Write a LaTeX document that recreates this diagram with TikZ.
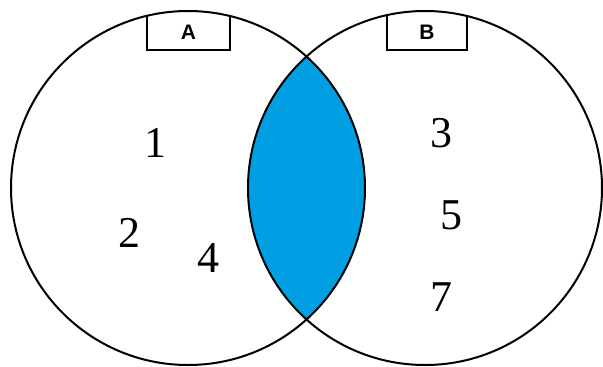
\documentclass[tikz,border=0pt]{standalone}
\usepackage{fontspec}
\setmainfont{Liberation Serif}
\newfontfamily\labelfont{Liberation Sans}
\definecolor{lensblue}{RGB}{0,159,227}
\begin{document}
\begin{tikzpicture}[x=1pt,y=-1pt,
  setline/.style={line width=2pt,black},
  boxline/.style={line width=1.8pt,black},
  num/.style={font=\fontsize{44}{44}\selectfont,inner sep=0pt},
  lab/.style={font=\labelfont\bfseries\fontsize{21}{21}\selectfont,inner sep=0pt}]
\useasboundingbox (0,0) rectangle (603,367);
\coordinate (ca) at (188,188);
\coordinate (cb) at (425,188);
% lens
\begin{scope}
  \clip (ca) circle (177);
  \fill[lensblue] (cb) circle (177);
\end{scope}
% label boxes
\begin{scope}
  \clip (ca) circle (177);
  \draw[boxline] (147,0) rectangle (230,50);
\end{scope}
\begin{scope}
  \clip (cb) circle (177);
  \draw[boxline] (387,0) rectangle (467,50);
\end{scope}
% circles
\draw[setline] (ca) circle (177);
\draw[setline] (cb) circle (177);
% labels
\node[lab] (la) at (188.5,32) {A};
\node[lab] (lb) at (427,32) {B};
% numbers
\node[num] (n1) at (155,143) {1};
\node[num] (n2) at (129,233) {2};
\node[num] (n4) at (208,258) {4};
\node[num] (n3) at (441,133) {3};
\node[num] (n5) at (451,215) {5};
\node[num] (n7) at (441,297) {7};
\end{tikzpicture}
\end{document}
